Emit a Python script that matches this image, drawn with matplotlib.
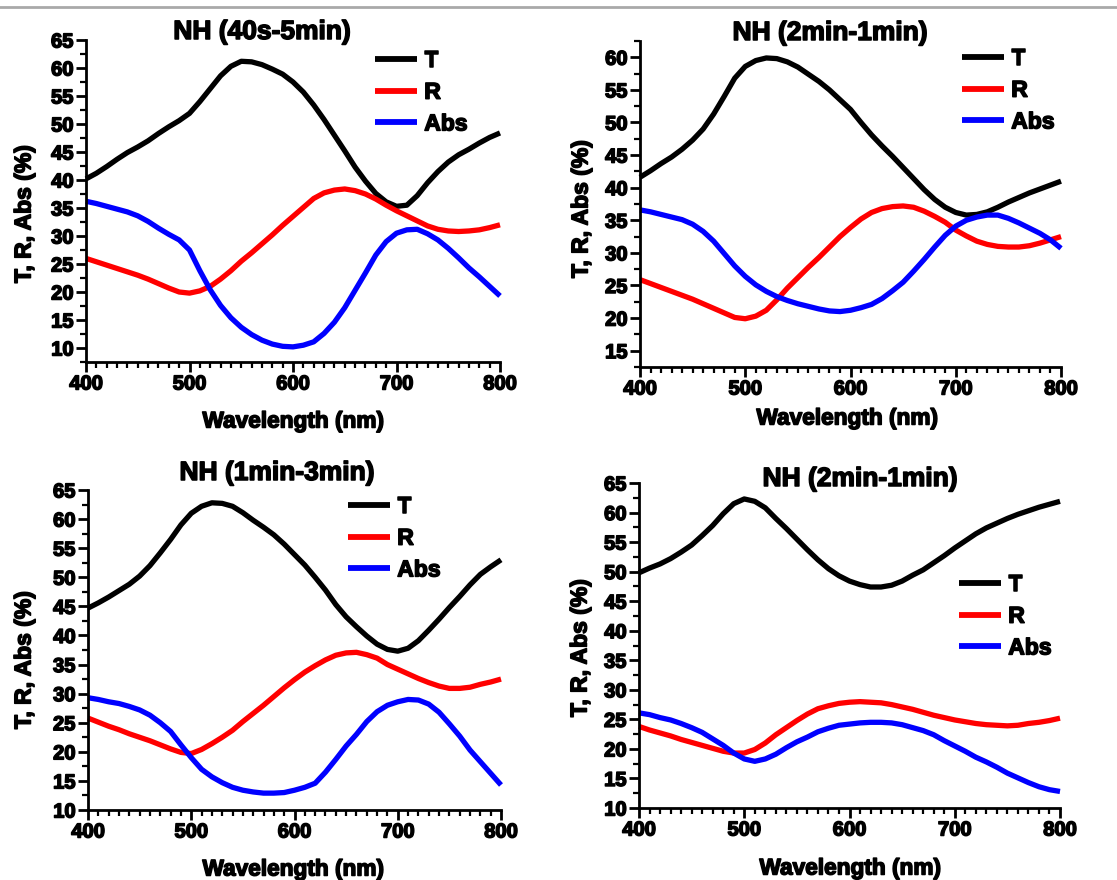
import numpy as np
import matplotlib
matplotlib.use("Agg")
import matplotlib.pyplot as plt
from matplotlib.ticker import MultipleLocator
from matplotlib.lines import Line2D
import matplotlib.patheffects as pe

plt.rcParams['font.family'] = ['Liberation Sans', 'DejaVu Sans']
plt.rcParams['font.weight'] = 'bold'

wl = list(range(400, 801, 10))

titles = ["NH (40s-5min)", "NH (2min-1min)", "NH (1min-3min)", "NH (2min-1min)"]
series_names = ["T", "R", "Abs"]

T1 = [40.2, 41.2, 42.4, 43.7, 44.9, 45.9, 47.0, 48.3, 49.5, 50.6, 51.9, 54.0, 56.3, 58.6, 60.3,
      61.2, 61.1, 60.6, 59.8, 58.9, 57.5, 55.7, 53.4, 50.8, 48.0, 45.2, 42.3, 39.8, 37.6, 36.1,
      35.3, 35.5, 37.2, 39.5, 41.5, 43.2, 44.5, 45.5, 46.6, 47.6, 48.4]
R1 = [26.0, 25.4, 24.8, 24.2, 23.6, 23.0, 22.3, 21.5, 20.7, 20.0, 19.8, 20.2, 21.0, 22.3, 23.8,
      25.5, 27.0, 28.6, 30.2, 31.9, 33.5, 35.1, 36.7, 37.7, 38.2, 38.4, 38.1, 37.5, 36.6, 35.5,
      34.5, 33.6, 32.7, 31.8, 31.2, 30.9, 30.8, 30.9, 31.1, 31.5, 32.0]
A1 = [36.2, 35.8, 35.3, 34.8, 34.3, 33.6, 32.6, 31.4, 30.3, 29.3, 27.5, 23.8, 20.4, 17.6, 15.4,
      13.7, 12.4, 11.4, 10.7, 10.3, 10.2, 10.5, 11.1, 12.6, 14.6, 17.2, 20.3, 23.4, 26.6, 29.0,
      30.5, 31.1, 31.2, 30.4, 29.3, 27.8, 26.1, 24.3, 22.7, 21.0, 19.3]

T2 = [41.6, 42.6, 43.7, 44.7, 45.9, 47.3, 49.0, 51.3, 54.0, 56.8, 58.6, 59.5, 59.9, 59.8, 59.3,
      58.5, 57.4, 56.3, 55.0, 53.5, 52.0, 50.0, 48.1, 46.4, 44.8, 43.1, 41.4, 39.7, 38.2, 37.0,
      36.2, 35.8, 35.9, 36.3, 37.0, 37.8, 38.5, 39.2, 39.8, 40.4, 41.0]
R2 = [25.9, 25.3, 24.7, 24.1, 23.5, 22.9, 22.2, 21.5, 20.8, 20.1, 19.9, 20.3, 21.2, 22.8, 24.6,
      26.2, 27.8, 29.3, 30.9, 32.5, 33.9, 35.2, 36.2, 36.8, 37.1, 37.2, 37.0, 36.4, 35.6, 34.7,
      33.5, 32.6, 31.8, 31.3, 31.0, 30.9, 30.9, 31.1, 31.5, 32.0, 32.5]
A2 = [36.6, 36.3, 35.9, 35.5, 35.1, 34.4, 33.3, 31.8, 29.9, 28.0, 26.4, 25.1, 24.1, 23.3, 22.7,
      22.2, 21.8, 21.4, 21.1, 21.0, 21.2, 21.6, 22.1, 23.0, 24.2, 25.5, 27.2, 29.0, 30.9, 32.7,
      34.1, 35.0, 35.5, 35.8, 35.8, 35.3, 34.6, 33.8, 33.0, 32.0, 30.7]

T3 = [44.7, 45.6, 46.6, 47.7, 48.8, 50.2, 52.0, 54.2, 56.5, 59.0, 61.0, 62.2, 62.8, 62.7, 62.2,
      61.1, 59.8, 58.6, 57.3, 55.7, 53.9, 52.1, 50.0, 47.8, 45.3, 43.2, 41.5, 39.9, 38.5, 37.6,
      37.3, 37.8, 39.1, 40.9, 42.8, 44.8, 46.7, 48.7, 50.5, 51.8, 53.0]
R3 = [25.8, 25.1, 24.4, 23.8, 23.1, 22.5, 21.9, 21.2, 20.5, 19.9, 19.7, 20.4, 21.4, 22.5, 23.7,
      25.2, 26.6, 28.0, 29.5, 31.0, 32.4, 33.7, 34.8, 35.8, 36.6, 37.0, 37.1, 36.7, 36.1, 35.0,
      34.2, 33.4, 32.6, 31.9, 31.3, 30.9, 30.9, 31.1, 31.6, 32.0, 32.5]
A3 = [29.3, 29.0, 28.6, 28.3, 27.8, 27.2, 26.3, 25.0, 23.5, 21.2, 19.0, 17.0, 15.7, 14.7, 13.9,
      13.4, 13.1, 12.9, 12.9, 13.0, 13.4, 13.9, 14.6, 16.5, 18.7, 21.0, 23.0, 25.2, 26.9, 28.0,
      28.6, 29.0, 28.9, 28.2, 26.8, 24.8, 22.7, 20.3, 18.3, 16.3, 14.3]

T4 = [49.8, 50.6, 51.3, 52.2, 53.3, 54.5, 56.1, 57.8, 59.8, 61.5, 62.3, 61.9, 60.8, 59.0, 57.3,
      55.5, 53.7, 52.0, 50.5, 49.3, 48.4, 47.8, 47.4, 47.4, 47.7, 48.4, 49.4, 50.3, 51.5, 52.7,
      54.0, 55.2, 56.4, 57.4, 58.2, 59.0, 59.7, 60.3, 60.9, 61.4, 61.9]
R4 = [23.8, 23.2, 22.7, 22.2, 21.6, 21.1, 20.6, 20.1, 19.6, 19.3, 19.3, 19.9, 21.0, 22.4, 23.6,
      24.8, 25.9, 26.8, 27.3, 27.7, 27.9, 28.0, 27.9, 27.8, 27.5, 27.1, 26.7, 26.2, 25.7, 25.3,
      24.9, 24.6, 24.3, 24.1, 24.0, 23.9, 24.0, 24.3, 24.5, 24.8, 25.2]
A4 = [26.1, 25.8, 25.3, 24.9, 24.3, 23.6, 22.8, 21.7, 20.6, 19.3, 18.3, 17.9, 18.3, 19.1, 20.2,
      21.2, 22.0, 22.9, 23.5, 24.0, 24.2, 24.4, 24.5, 24.5, 24.4, 24.1, 23.6, 23.1, 22.4, 21.4,
      20.5, 19.6, 18.6, 17.8, 16.9, 15.9, 15.1, 14.3, 13.6, 13.1, 12.8]

panels_data = [(T1, R1, A1), (T2, R2, A2), (T3, R3, A3), (T4, R4, A4)]
colors = ["#000000", "#ff0000", "#0000ff"]

W, H = 1117, 880
fig = plt.figure(figsize=(W / 100, H / 100), dpi=100)

heavy = [pe.withStroke(linewidth=1.1, foreground='black')]

def px(x0, y_top, x1, y_bot):
    return [x0 / W, 1 - y_bot / H, (x1 - x0) / W, (y_bot - y_top) / H]

axes_px = [(86, 40, 500, 362), (640, 41, 1061, 367), (88, 490, 501, 810), (639, 483, 1060, 808)]
ylims = [(7.5, 65), (12.5, 62.5), (10, 65), (10, 65)]
yticks = [np.arange(10, 66, 5), np.arange(15, 61, 5), np.arange(10, 66, 5), np.arange(10, 66, 5)]
title_pos = [(262, 32), (830, 33), (277, 473), (860, 479)]
ylab_pos = [(24, 214), (581, 209), (24, 660), (580, 648)]
xlab_pos = [(293, 421), (847, 418), (293, 869), (850, 868)]
leg_pos = [(375, 49), (962, 47), (348, 495), (959, 573)]

fig.add_artist(Line2D([0, 1], [1 - 7 / H, 1 - 7 / H], transform=fig.transFigure,
                      color="#a9a9a9", lw=2.0))

for i, (rect, data) in enumerate(zip(axes_px, panels_data)):
    ax = fig.add_axes(px(*rect))
    for name, vals, c in zip(series_names, data, colors):
        ax.plot(wl, vals, color=c, lw=3.8, label=name, solid_capstyle='butt',
                solid_joinstyle='round', clip_on=False)
    ax.set_xlim(400, 800)
    ax.set_ylim(*ylims[i])
    ax.set_xticks([400, 500, 600, 700, 800])
    ax.set_yticks(yticks[i])
    ax.xaxis.set_minor_locator(MultipleLocator(10))
    ax.yaxis.set_minor_locator(MultipleLocator(2.5))
    for s in ['top', 'right']:
        ax.spines[s].set_visible(False)
    for s in ['left', 'bottom']:
        ax.spines[s].set_linewidth(2.0)
    ax.tick_params(which='major', direction='out', length=7, width=2, labelsize=14.5, pad=2)
    ax.tick_params(which='minor', direction='out', length=4, width=1.6)
    for lab in ax.get_xticklabels() + ax.get_yticklabels():
        lab.set_fontweight('bold')
        lab.set_path_effects(heavy)

    tx, ty = title_pos[i]
    fig.text(tx / W, 1 - ty / H, titles[i], ha='center', va='center', fontsize=19,
             fontweight='bold', path_effects=heavy)
    yx, yy = ylab_pos[i]
    fig.text(yx / W, 1 - yy / H, "T, R, Abs (%)", ha='center', va='center', rotation=90,
             fontsize=16.5, fontweight='bold', path_effects=heavy)
    xx, xy = xlab_pos[i]
    fig.text(xx / W, 1 - xy / H, "Wavelength (nm)", ha='center', va='center', fontsize=16.3,
             fontweight='bold', path_effects=heavy)
    lx, ly = leg_pos[i]
    leg = ax.legend(loc='upper left', bbox_to_anchor=(lx / W, 1 - ly / H),
                    bbox_transform=fig.transFigure, frameon=False, borderpad=0, borderaxespad=0,
                    handlelength=1.85, handletextpad=0.3, labelspacing=0.38,
                    prop={'size': 16.5, 'weight': 'bold'})
    for t in leg.get_texts():
        t.set_path_effects(heavy)
    for h in leg.get_lines():
        h.set_linewidth(4.2)

fig.savefig("out.png", dpi=100)
